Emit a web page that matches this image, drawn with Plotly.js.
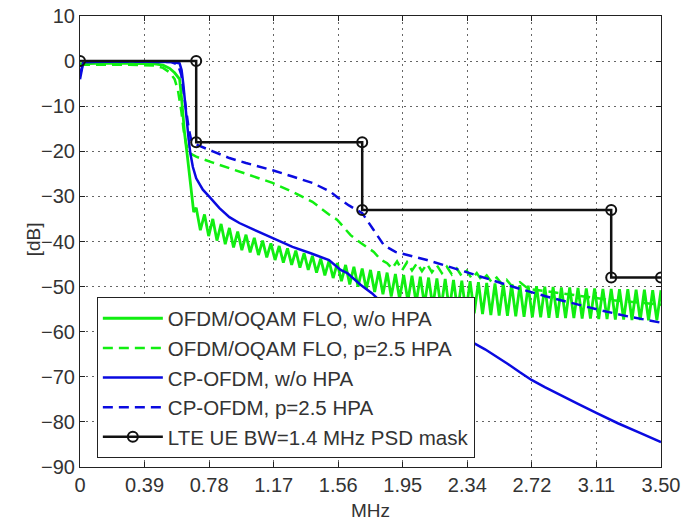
<!DOCTYPE html>
<html>
<head>
<meta charset="utf-8">
<script src="https://cdn.plot.ly/plotly-3.0.1.min.js"></script>
<style>html,body{margin:0;padding:0;background:#fff;}</style>
</head>
<body>
<div id="chart" style="width:685px;height:522px;"></div>
<script>
// ---- Data ----
const freqTicks = [0, 0.3889, 0.7778, 1.1667, 1.5556, 1.9444, 2.3333, 2.7222, 3.1111, 3.5];
const freqTickLabels = ['0', '0.39', '0.78', '1.17', '1.56', '1.95', '2.34', '2.72', '3.11', '3.50'];
const dbTicks = [-90, -80, -70, -60, -50, -40, -30, -20, -10, 0, 10];

// OFDM/OQAM FLO, w/o HPA (green solid, rippled out-of-band floor)
const floX = [0, 0.10, 0.30, 0.45, 0.50, 0.54, 0.57, 0.60, 0.61, 0.62, 0.63, 0.645, 0.655, 0.665, 0.675, 0.685,
  0.700, 0.725, 0.750, 0.775, 0.800, 0.825, 0.850, 0.875, 0.900, 0.925, 0.950, 0.975,
  1.000, 1.025, 1.050, 1.075, 1.100, 1.125, 1.150, 1.175, 1.200, 1.225, 1.250, 1.275,
  1.300, 1.325, 1.350, 1.375, 1.400, 1.425, 1.450, 1.475, 1.500, 1.525, 1.550, 1.575,
  1.600, 1.625, 1.650, 1.675, 1.700, 1.725, 1.750, 1.775, 1.800, 1.825, 1.850, 1.875,
  1.900, 1.925, 1.950, 1.975, 2.000, 2.025, 2.050, 2.075, 2.100, 2.125, 2.150, 2.175,
  2.200, 2.225, 2.250, 2.275, 2.300, 2.325, 2.350, 2.375, 2.400, 2.425, 2.450, 2.475,
  2.500, 2.525, 2.550, 2.575, 2.600, 2.625, 2.650, 2.675, 2.700, 2.725, 2.750, 2.775,
  2.800, 2.825, 2.850, 2.875, 2.900, 2.925, 2.950, 2.975, 3.000, 3.025, 3.050, 3.075,
  3.100, 3.125, 3.150, 3.175, 3.200, 3.225, 3.250, 3.275, 3.300, 3.325, 3.350, 3.375,
  3.400, 3.425, 3.450, 3.475, 3.500];
const floY = [-0.6, -0.5, -0.5, -0.6, -0.9, -1.6, -2.6, -4.0, -7.5, -12, -16, -20.5, -24, -27.5, -30, -33.5,
  -32.5, -37.5, -34.0, -38.8, -35.0, -39.8, -36.1, -40.6, -37.0, -41.3, -37.8, -41.9,
  -38.5, -42.4, -39.2, -43.0, -39.8, -43.5, -40.4, -44.1, -41.0, -44.7, -41.5, -45.2,
  -42.0, -45.8, -42.6, -46.3, -43.2, -46.9, -43.8, -47.5, -44.3, -48.1, -44.8, -48.8,
  -45.2, -49.5, -45.6, -50.0, -46.0, -50.6, -46.3, -51.2, -46.6, -51.7, -46.9, -52.2,
  -47.2, -52.7, -47.4, -53.2, -47.6, -53.6, -47.8, -54.0, -48.0, -54.4, -48.2, -54.8,
  -48.3, -55.1, -48.5, -55.4, -48.7, -55.7, -48.8, -55.9, -49.0, -56.1, -49.2, -56.3,
  -49.3, -56.4, -49.5, -56.5, -49.6, -56.6, -49.7, -56.7, -49.8, -56.8, -49.9, -56.8,
  -50.0, -56.9, -50.1, -56.9, -50.2, -57.0, -50.2, -57.0, -50.3, -57.1, -50.4, -57.1,
  -50.4, -57.2, -50.5, -57.2, -50.5, -57.3, -50.6, -57.3, -50.6, -57.4, -50.7, -57.4,
  -50.7, -57.5, -50.8, -57.5, -50.8];

// OFDM/OQAM FLO, p=2.5 HPA (green dashed)
const floHpaX = [0, 0.30, 0.45, 0.50, 0.54, 0.57, 0.59, 0.61, 0.625, 0.64, 0.66, 0.70, 0.80, 0.90, 1.00,
  1.16, 1.28, 1.40, 1.50, 1.55, 1.63, 1.69, 1.77, 1.81, 1.85, 1.88, 1.91, 1.94, 1.97, 2.00,
  2.03, 2.06, 2.09, 2.12, 2.15, 2.18, 2.21, 2.24, 2.27, 2.30, 2.33, 2.36, 2.39, 2.42, 2.45,
  2.48, 2.51, 2.54, 2.57, 2.60, 2.65, 2.70, 2.80, 2.90, 3.00, 3.10, 3.20, 3.30, 3.40, 3.50];
const floHpaY = [-0.8, -0.8, -1.0, -1.5, -2.5, -4.0, -6.5, -11, -15.5, -18.5, -20.4, -21.2, -22.5, -23.7, -25.0,
  -27.0, -29.0, -31.2, -34.0, -35.2, -38.6, -40.3, -42.3, -44.0, -44.8, -46.0, -44.4, -46.4, -44.6, -46.4,
  -44.8, -46.6, -45.0, -46.8, -45.3, -47.0, -45.6, -47.3, -46.0, -47.7, -46.5, -48.2, -47.0, -48.6, -47.5,
  -49.0, -48.0, -49.4, -48.5, -49.8, -49.0, -50.5, -51.0, -51.5, -52.0, -52.5, -53.0, -53.3, -53.6, -54.0];

// CP-OFDM, w/o HPA (blue solid)
const cpX = [0, 0.02, 0.30, 0.55, 0.60, 0.612, 0.622, 0.633, 0.645, 0.655, 0.665, 0.68, 0.70, 0.74, 0.78,
  0.84, 0.90, 0.96, 1.06, 1.16, 1.28, 1.39, 1.50, 1.57, 1.61, 1.69, 1.76, 1.81, 1.90, 2.00,
  2.10, 2.20, 2.30, 2.37, 2.44, 2.50, 2.58, 2.65, 2.72, 2.80, 2.90, 3.00, 3.11, 3.24, 3.37, 3.50];
const cpY = [-4, -0.2, -0.1, -0.2, -0.5, -2, -5, -9.5, -14, -17.5, -20.5, -23.5, -26, -28.5, -30.1,
  -32.6, -34.6, -35.9, -37.6, -39.3, -41.2, -42.6, -44.1, -46.3, -47.0, -49.6, -51.5, -53.3, -55.3, -57.0,
  -58.5, -59.9, -61.3, -62.5, -63.9, -65.3, -67.2, -69.0, -70.7, -72.3, -74.2, -76.0, -78.0, -80.3, -82.4, -84.5];

// CP-OFDM, p=2.5 HPA (blue dashed)
const cpHpaX = [0, 0.02, 0.30, 0.55, 0.59, 0.61, 0.625, 0.64, 0.655, 0.67, 0.70, 0.80, 0.90, 1.00, 1.16,
  1.28, 1.40, 1.51, 1.55, 1.62, 1.70, 1.77, 1.83, 1.90, 2.00, 2.09, 2.25, 2.41, 2.51, 2.65,
  2.81, 2.97, 3.13, 3.30, 3.50];
const cpHpaY = [-3, -0.2, -0.1, -0.2, -0.8, -3, -7, -11.5, -15, -17.5, -18.5, -20.0, -21.5, -22.6, -24.2,
  -25.6, -27.0, -29.0, -30.2, -32.0, -33.7, -37.5, -40.8, -42.3, -43.2, -44.1, -45.9, -47.8, -48.9, -50.5,
  -52.2, -53.7, -55.2, -56.6, -58.0];

// LTE UE BW=1.4 MHz PSD mask
const maskX = [0, 0.7, 0.7, 1.7, 1.7, 3.2, 3.2, 3.5];
const maskY = [0, 0, -18, -18, -33, -33, -48, -48];

const seriesNames = ['OFDM/OQAM FLO, w/o HPA', 'OFDM/OQAM FLO, p=2.5 HPA', 'CP-OFDM, w/o HPA',
  'CP-OFDM, p=2.5 HPA', 'LTE UE BW=1.4 MHz PSD mask'];
const xTitle = 'MHz';
const yTitle = '[dB]';

// ---- Styling ----
const FONT = 'Liberation Sans, Arial, sans-serif';
const GREEN = '#11ee11';
const BLUE = '#0a0ae0';

const traces = [
  {x: floX, y: floY, name: seriesNames[0], mode: 'lines', line: {color: GREEN, width: 2.8}},
  {x: floHpaX, y: floHpaY, name: seriesNames[1], mode: 'lines', line: {color: GREEN, width: 2.5, dash: '10px,6px'}},
  {x: cpX, y: cpY, name: seriesNames[2], mode: 'lines', line: {color: BLUE, width: 2.5}},
  {x: cpHpaX, y: cpHpaY, name: seriesNames[3], mode: 'lines', line: {color: BLUE, width: 2.5, dash: '10px,6px'}},
  {x: maskX, y: maskY, name: seriesNames[4], mode: 'lines+markers', line: {color: '#111', width: 2.5},
   marker: {symbol: 'circle-open', size: 10, color: '#111', line: {width: 2}}}
];

const axisCommon = {
  ticks: 'inside', ticklen: 5, tickwidth: 1, tickcolor: '#222',
  showline: true, linecolor: '#222', linewidth: 1, mirror: 'ticks',
  showgrid: true, gridcolor: '#666', gridwidth: 1, griddash: '2px,4px',
  zeroline: false,
  tickfont: {family: FONT, size: 20, color: '#333'}
};

const layout = {
  width: 685, height: 522,
  margin: {l: 80, r: 24, t: 16, b: 55},
  paper_bgcolor: '#fff', plot_bgcolor: '#fff',
  font: {family: FONT, color: '#333'},
  showlegend: true,
  legend: {
    x: 0.029, y: 0.376, xanchor: 'left', yanchor: 'top',
    bgcolor: '#fff', bordercolor: '#222', borderwidth: 1,
    font: {family: FONT, size: 20.5, color: '#333'},
    itemwidth: 60,
    tracegroupgap: 0
  },
  xaxis: Object.assign({}, axisCommon, {
    range: [0, 3.5], tickmode: 'array', tickvals: freqTicks, ticktext: freqTickLabels,
    title: {text: xTitle, font: {family: FONT, size: 19, color: '#333'}, standoff: 8}
  }),
  yaxis: Object.assign({}, axisCommon, {
    range: [-90, 10], tickmode: 'array', tickvals: dbTicks
  }),
  annotations: [{
    text: yTitle, textangle: -90, showarrow: false,
    xref: 'paper', yref: 'paper', x: 0, y: 0.505, xanchor: 'center', yanchor: 'middle',
    xshift: -47, font: {family: FONT, size: 19, color: '#333'}
  }]
};

Plotly.newPlot('chart', traces, layout, {displayModeBar: false, staticPlot: true});
</script>
</body>
</html>
